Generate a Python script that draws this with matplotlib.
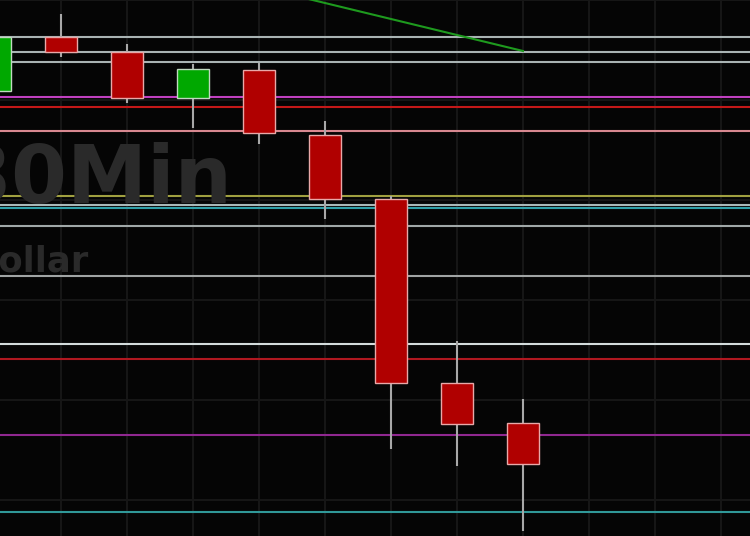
import numpy as np
import matplotlib
matplotlib.use('Agg')
from matplotlib import pyplot as plt

# 30 min candles (index, open, high, low, close)
idx = [0, 1, 2, 3, 4, 5, 6, 7, 8]
opens = [0.72318, 0.72426, 0.72396, 0.72304, 0.72360, 0.72230, 0.72102, 0.71734, 0.71654]
highs = [0.72440, 0.72472, 0.72412, 0.72372, 0.72374, 0.72258, 0.72108, 0.71818, 0.71702]
lows = [0.72300, 0.72386, 0.72294, 0.72244, 0.72212, 0.72062, 0.71602, 0.71568, 0.71438]
closes = [0.72426, 0.72396, 0.72304, 0.72362, 0.72234, 0.72102, 0.71734, 0.71652, 0.71572]

# moving average (only the tail is on screen)
ma_idx = [3, 4, 5, 6, 7, 8]
ma_vals = [0.72558, 0.72526, 0.72494, 0.72462, 0.72430, 0.72398]

# horizontal levels and their colours
levels = [0.72427, 0.72396, 0.72376, 0.72306, 0.72286, 0.72238, 0.72108,
          0.72090, 0.72084, 0.72048, 0.71948, 0.71812, 0.71782, 0.71630, 0.71476]
level_colors = ['#a9b3b3', '#a9b3b3', '#a9b3b3', '#c040c0', '#c41818', '#d88890', '#a0a040',
                '#a8b8b8', '#30a0a8', '#a0a8a8', '#a0a4a4', '#d4dcdc', '#b01820', '#902890', '#309898']

bg = '#050505'
fig = plt.figure(figsize=(7.5, 5.36), dpi=100, facecolor=bg)
ax = fig.add_axes([0, 0, 1, 1], facecolor=bg)

# watermark (cut at the left edge, as in the original)
fig.text(232 / 750, 1 - 203 / 536, '30Min', color='#2a2a2a', fontsize=58,
         fontweight='bold', family='DejaVu Sans', ha='right', va='baseline', zorder=0)
fig.text(89 / 750, 1 - 272 / 536, 'Dollar', color='#2a2a2a', fontsize=25.5,
         fontweight='bold', family='DejaVu Sans', ha='right', va='baseline', zorder=0)

# faint grid
ax.set_xticks(np.arange(0, 12))
ax.set_yticks(np.arange(0.7150, 0.7251, 0.0020))
ax.grid(True, color='#161616', linewidth=1.5)
ax.tick_params(length=0, labelbottom=False, labelleft=False)
for s in ax.spines.values():
    s.set_visible(False)

for lv, c in zip(levels, level_colors):
    ax.axhline(lv, color=c, linewidth=1.5, zorder=2)

ax.plot(ma_idx, ma_vals, color='#1e9a1e', linewidth=1.5, zorder=3)

o = np.array(opens)
cl = np.array(closes)
up = cl >= o
ax.vlines(idx, lows, highs, color='#a8a8a8', linewidth=1.5, zorder=3)
ax.bar(np.array(idx)[up], (cl - o)[up], bottom=o[up], width=0.485,
       color='#00a800', edgecolor='#c0d8c0', linewidth=1, zorder=4)
ax.bar(np.array(idx)[~up], (cl - o)[~up], bottom=o[~up], width=0.485,
       color='#b00000', edgecolor='#e8a8a8', linewidth=1, zorder=4)

ax.set_xlim(5 / 66, 755 / 66)
ax.set_ylim(0.71428, 0.7250)

fig.savefig('out.png', dpi=100, facecolor=bg)
